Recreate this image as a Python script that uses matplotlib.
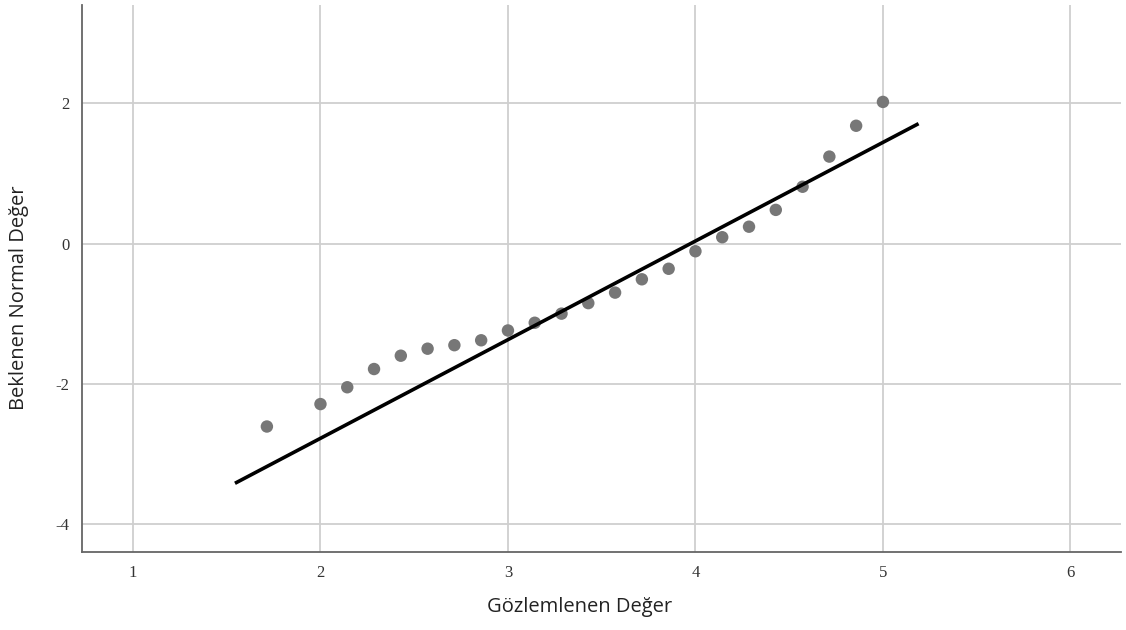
import matplotlib
matplotlib.use('Agg')
import matplotlib.pyplot as plt
import numpy as np

plt.rcParams['axes.unicode_minus'] = False

# gozlemlenen degerler (x) ve beklenen normal degerler (y)
observed = [12/7, 2.0, 15/7, 16/7, 17/7, 18/7, 19/7, 20/7, 3.0, 22/7, 23/7,
            24/7, 25/7, 26/7, 27/7, 4.0, 29/7, 30/7, 31/7, 32/7, 33/7, 34/7, 5.0]
expected = [-2.61, -2.29, -2.05, -1.79, -1.60, -1.50, -1.45, -1.38, -1.24, -1.13,
            -1.00, -0.85, -0.70, -0.51, -0.36, -0.11, 0.09, 0.24, 0.48, 0.81,
            1.24, 1.68, 2.02]

# referans dogrusu
line_x = [1.544, 5.19]
line_y = [-3.42, 1.71]

xticks = [1, 2, 3, 4, 5, 6]
yticks = [-4, -2, 0, 2]

fig = plt.figure(figsize=(11.26, 6.3), dpi=100)
ax = fig.add_axes([0.0728, 0.1238, 0.9228, 0.868])

ax.grid(True, color='#cfcfcf', linewidth=1.3)
ax.set_axisbelow(True)

ax.scatter(observed, expected, s=80, color='#777777', zorder=3, edgecolors='none')
ax.plot(line_x, line_y, color='black', linewidth=2.6, zorder=4, solid_capstyle='butt')

ax.set_xlim(0.728, 6.27)
ax.set_ylim(-4.4, 3.4)
ax.set_xticks(xticks)
ax.set_yticks(yticks)

for s in ['top', 'right']:
    ax.spines[s].set_visible(False)
for s in ['left', 'bottom']:
    ax.spines[s].set_color('#666666')
    ax.spines[s].set_linewidth(1.3)

ax.tick_params(length=0, pad=9, labelsize=12, labelcolor='#333333')
for lab in ax.get_xticklabels() + ax.get_yticklabels():
    lab.set_family('Liberation Serif')

ax.set_xlabel('Gözlemlenen Değer', family='Open Sans', fontsize=14.5, color='#222222')
ax.set_ylabel('Beklenen Normal Değer', family='Open Sans', fontsize=14.5, color='#222222')
ax.xaxis.set_label_coords(0.479, -0.082)
ax.yaxis.set_label_coords(-0.051, 0.465)

fig.savefig('out.png', dpi=100)
